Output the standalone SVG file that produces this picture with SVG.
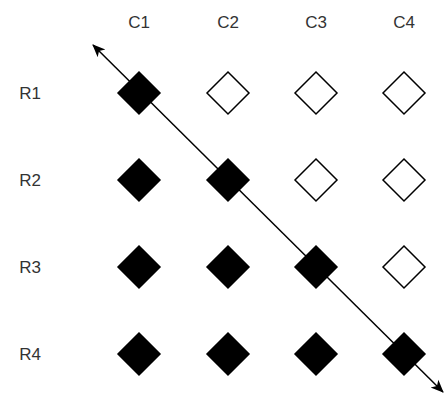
<svg xmlns="http://www.w3.org/2000/svg" width="447" height="398" viewBox="0 0 447 398">
  <style>
    text { font-family: "Liberation Sans", Arial, sans-serif; font-size: 17px; fill: #333; text-anchor: middle; dominant-baseline: central; }
    .on { fill: #000; stroke: #000; stroke-width: 1.5; }
    .off { fill: #fff; stroke: #000; stroke-width: 1.5; }
  </style>
  <defs>
    <path id="d" d="M0,-21 L21,0 L0,21 L-21,0 Z"/>
    <marker id="arr" markerWidth="14" markerHeight="14" refX="12" refY="7" orient="auto-start-reverse" markerUnits="userSpaceOnUse">
      <path d="M0,1.5 L13,7 L0,12.5 L3.5,7 Z" fill="#000"/>
    </marker>
  </defs>

  <g id="labels">
    <text x="139" y="22">C1</text>
    <text x="228" y="22">C2</text>
    <text x="316" y="22">C3</text>
    <text x="404" y="22">C4</text>
    <text x="30" y="93">R1</text>
    <text x="30" y="180">R2</text>
    <text x="30" y="267">R3</text>
    <text x="30" y="354">R4</text>
  </g>

  <g id="connectors">
    <line x1="93" y1="45" x2="443" y2="392" stroke="#000" stroke-width="1.5" marker-start="url(#arr)" marker-end="url(#arr)"/>
  </g>

  <g id="r1">
    <use href="#d" class="on" x="139" y="93"/>
    <use href="#d" class="off" x="228" y="93"/>
    <use href="#d" class="off" x="316" y="93"/>
    <use href="#d" class="off" x="404" y="93"/>
  </g>
  <g id="r2">
    <use href="#d" class="on" x="139" y="180"/>
    <use href="#d" class="on" x="228" y="180"/>
    <use href="#d" class="off" x="316" y="180"/>
    <use href="#d" class="off" x="404" y="180"/>
  </g>
  <g id="r3">
    <use href="#d" class="on" x="139" y="267"/>
    <use href="#d" class="on" x="228" y="267"/>
    <use href="#d" class="on" x="316" y="267"/>
    <use href="#d" class="off" x="404" y="267"/>
  </g>
  <g id="r4">
    <use href="#d" class="on" x="139" y="354"/>
    <use href="#d" class="on" x="228" y="354"/>
    <use href="#d" class="on" x="316" y="354"/>
    <use href="#d" class="on" x="404" y="354"/>
  </g>
</svg>
